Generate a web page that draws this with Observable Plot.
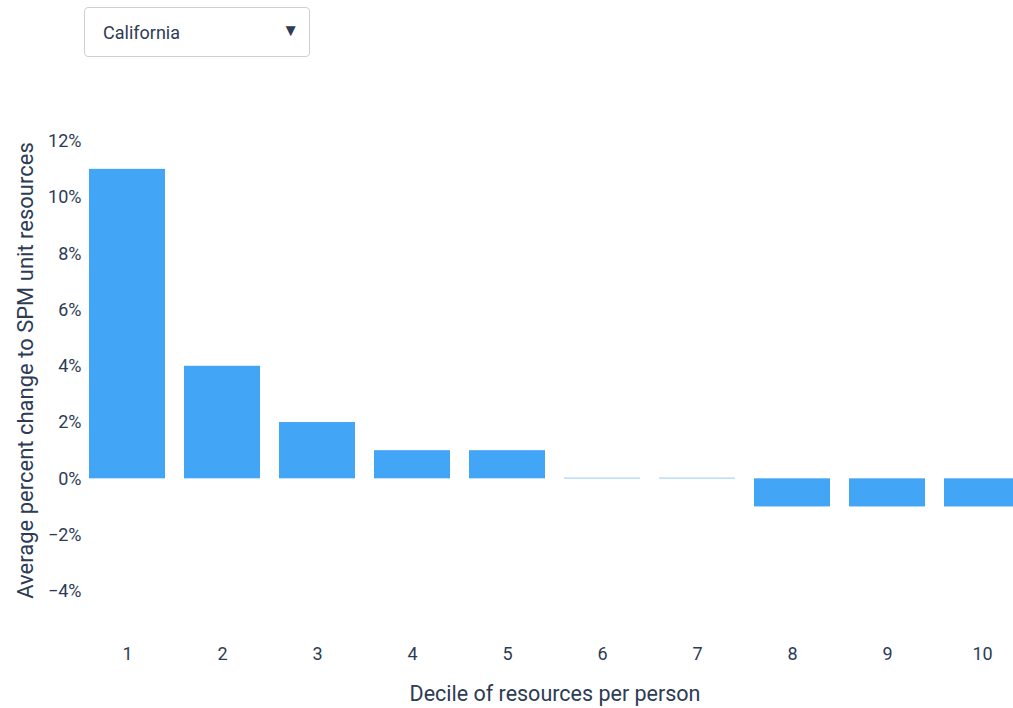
<!DOCTYPE html>
<html><head><meta charset="utf-8">
<script src="https://cdn.jsdelivr.net/npm/d3@7"></script>
<script src="https://cdn.jsdelivr.net/npm/@observablehq/plot@0.6"></script>
<style>
html,body{margin:0;padding:0;background:#fff;font-family:Roboto,sans-serif;}
#wrap{position:relative;width:1013px;height:708px;overflow:hidden;}
#dd{position:absolute;left:84px;top:7px;width:226px;height:50px;box-sizing:border-box;border:1.5px solid #c9d0da;border-radius:4px;background:#fff;color:#2d3b55;font-size:18px;display:flex;align-items:center;padding-left:18px;}
#dd .arr{position:absolute;right:10px;top:12px;font-size:17px;}
#chart{position:absolute;left:0;top:0;width:1031px;}
#chart svg{max-width:none !important;}
</style></head>
<body>
<div id="wrap"><div id="chart"></div><div id="dd"><span id="state"></span><span class="arr">▼</span></div></div>
<script>
const state = "California";
const deciles = ["1","2","3","4","5","6","7","8","9","10"];
const changes = [0.11, 0.04, 0.02, 0.01, 0.01, 0.0002, 0.0002, -0.01, -0.01, -0.01];
const yTicks = [-0.04, -0.02, 0, 0.02, 0.04, 0.06, 0.08, 0.10, 0.12];
const xTitle = "Decile of resources per person";
const yTitle = "Average percent change to SPM unit resources";

document.getElementById("state").textContent = state;
const data = deciles.map((d, i) => ({decile: d, value: changes[i]}));
const ink = "#2d3b55";
const chart = Plot.plot({
  width: 1031, height: 708,
  marginLeft: 78, marginRight: 0, marginTop: 121, marginBottom: 89,
  style: {fontFamily: "Roboto, sans-serif", fontSize: "18px", color: ink, background: "transparent", maxWidth: "none"},
  x: {domain: deciles, paddingInner: 0.2, paddingOuter: 0.1, axis: null},
  y: {domain: [-0.05, 0.127], axis: null},
  marks: [
    Plot.barY(data, {x: "decile", y: "value", fill: "#42a5f5"}),
    Plot.axisX({tickSize: 0, tickPadding: 28, label: null, fontSize: 18}),
    Plot.axisY(yTicks, {tickSize: 0, tickPadding: -3, label: null, fontSize: 18,
      tickFormat: d => (d < 0 ? "\u2212" : "") + Math.round(Math.abs(d) * 100) + "%"}),
    Plot.text([xTitle], {frameAnchor: "bottom", dy: 75, lineAnchor: "middle", textAnchor: "middle", fontSize: 21.5, fill: ink}),
    Plot.text([yTitle], {frameAnchor: "left", dx: -53, rotate: -90, textAnchor: "middle", lineAnchor: "middle", fontSize: 22, fill: ink})
  ]
});
document.getElementById("chart").appendChild(chart);
</script>
</body></html>
